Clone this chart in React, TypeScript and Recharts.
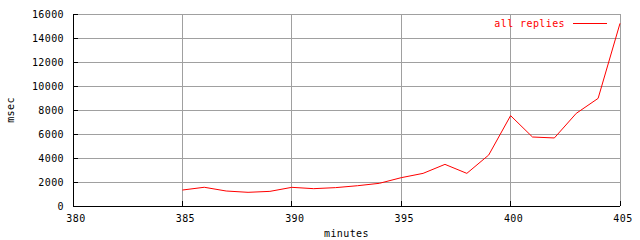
import { LineChart, Line, XAxis, YAxis, CartesianGrid, Legend, Label } from 'recharts';

const minutes = [385, 386, 387, 388, 389, 390, 391, 392, 393, 394, 395, 396, 397, 398, 399, 400, 401, 402, 403, 404, 405];
const allReplies = [1330, 1560, 1250, 1140, 1220, 1555, 1445, 1530, 1690, 1890, 2360, 2720, 3470, 2720, 4250, 7530, 5750, 5670, 7720, 8970, 15220];
const xTicks = [380, 385, 390, 395, 400, 405];
const yTicks = [0, 2000, 4000, 6000, 8000, 10000, 12000, 14000, 16000];

const data = minutes.map((m, i) => ({ minute: m, replies: allReplies[i] }));

const FONT = '"DejaVu Sans Mono", monospace';
const txt = { fontFamily: FONT, fontSize: 10, letterSpacing: 0.4, fill: '#000' };

// gnuplot style: ticks point inward, labels outside
const BottomTick = (p: any) => (
  <g>
    <line x1={p.x} x2={p.x} y1={p.y} y2={p.y - 5} stroke="#000" shapeRendering="crispEdges" />
    <text x={p.x + 3} y={p.y + 16} textAnchor="middle" style={txt}>{p.payload.value}</text>
  </g>
);
const TopTick = (p: any) => (
  <line x1={p.x} x2={p.x} y1={p.y} y2={p.y + 5} stroke="#000" shapeRendering="crispEdges" />
);
const LeftTick = (p: any) => (
  <g>
    <line x1={p.x} x2={p.x + 5} y1={p.y} y2={p.y} stroke="#000" shapeRendering="crispEdges" />
    <text x={p.x - 9} y={p.y + 4} textAnchor="end" style={txt}>{p.payload.value}</text>
  </g>
);
const RightTick = (p: any) => (
  <line x1={p.x} x2={p.x - 5} y1={p.y} y2={p.y} stroke="#000" shapeRendering="crispEdges" />
);

const LegendBox = () => (
  <svg width={640} height={20}>
    <text x={565} y={14} textAnchor="end" style={{ ...txt, fill: '#ff0000' }}>all replies</text>
    <line x1={573} x2={607} y1={10.5} y2={10.5} stroke="#ff0000" />
  </svg>
);

export default function App() {
  return (
    <div style={{ width: 640, height: 240, background: '#fff' }}>
      <style>{`body{margin:0} .recharts-cartesian-grid line, .recharts-cartesian-axis-line{shape-rendering:crispEdges}`}</style>
      <LineChart width={640} height={240} data={data} margin={{ top: 14, right: 20, bottom: 0, left: 0 }}>
        <CartesianGrid stroke="#a0a0a0" strokeWidth={1} />
        <XAxis dataKey="minute" type="number" domain={[380, 405]} ticks={xTicks} height={34}
          axisLine={{ stroke: '#000' }} tickLine={false} tickSize={0} tickMargin={0} tick={<BottomTick />}>
          <Label content={(p: any) => (
            <text x={p.viewBox.x + p.viewBox.width / 2} y={p.viewBox.y + 30.5} textAnchor="middle" style={txt}>minutes</text>
          )} />
        </XAxis>
        <XAxis xAxisId="top" orientation="top" dataKey="minute" type="number" domain={[380, 405]} ticks={xTicks} height={0}
          axisLine={{ stroke: '#000' }} tickLine={false} tickSize={0} tickMargin={0} tick={<TopTick />} />
        <YAxis type="number" domain={[0, 16000]} ticks={yTicks} width={73}
          axisLine={{ stroke: '#000' }} tickLine={false} tickSize={0} tickMargin={0} tick={<LeftTick />}>
          <Label content={(p: any) => {
            const cy = p.viewBox.y + p.viewBox.height / 2;
            return <text x={14} y={cy} textAnchor="middle" transform={`rotate(-90, 14, ${cy})`} style={txt}>msec</text>;
          }} />
        </YAxis>
        <YAxis yAxisId="right" orientation="right" type="number" domain={[0, 16000]} ticks={yTicks} width={0}
          axisLine={{ stroke: '#000' }} tickLine={false} tickSize={0} tickMargin={0} tick={<RightTick />} />
        <Legend verticalAlign="middle" content={<LegendBox />} wrapperStyle={{ top: 13, left: 0, width: 640 }} />
        <Line dataKey="replies" stroke="#ff0000" strokeWidth={1} dot={false} isAnimationActive={false} />
      </LineChart>
    </div>
  );
}
